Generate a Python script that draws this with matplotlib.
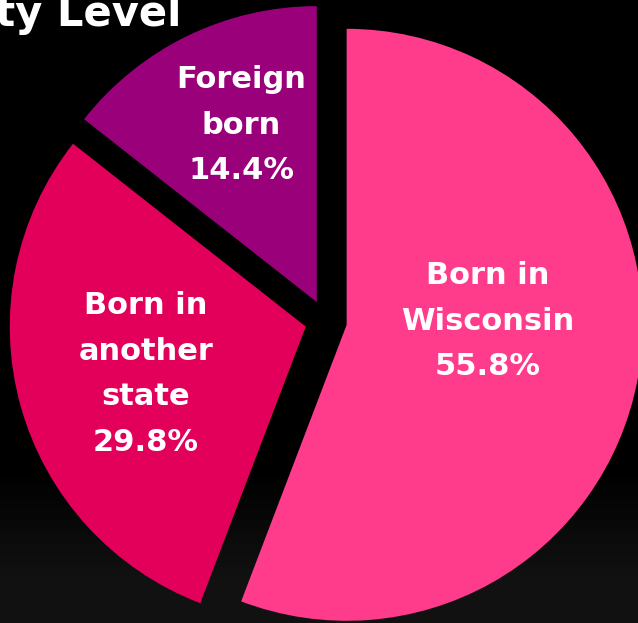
import numpy as np
import matplotlib
matplotlib.use("Agg")
import matplotlib.pyplot as plt

# Place of birth shares (percent)
categories = ["Born in\nWisconsin", "Born in\nanother\nstate", "Foreign\nborn"]
shares = [55.8, 29.8, 14.4]
colors = ["#FF3B8C", "#E2005A", "#99007A"]

W, H = 638, 623
fig = plt.figure(figsize=(W / 100, H / 100), dpi=100)
fig.patch.set_facecolor("black")
ax = fig.add_axes([0, 0, 1, 1])

# black background, slightly lighter toward the bottom
rows = np.arange(H)
grad = np.clip((rows - 470) / 110, 0, 1)[:, None] * 0.07
ax.imshow(np.dstack([grad, grad, grad]), extent=[0, W, 0, H], aspect="auto", zorder=0)

# explode is in data units here (pixels), pie is drawn in pixel space
wedges, _ = ax.pie(shares, colors=colors, startangle=90, counterclock=False,
                   explode=[21] * 3, center=(326, H - 321), radius=296,
                   wedgeprops=dict(linewidth=0))
ax.set_xlim(0, W)
ax.set_ylim(0, H)
ax.axis("off")

# label centres (pixels from the top-left corner)
label_pos = [(488, 321), (146, 374), (241, 125)]
for cat, val, (x, y) in zip(categories, shares, label_pos):
    ax.text(x, H - y, f"{cat}\n{val:.1f}%", ha="center", va="center",
            color="white", fontsize=22, fontweight="bold",
            family="DejaVu Sans", linespacing=1.72, zorder=5)

# title, mostly cut off at the left edge
ax.text(181, H - 26, "County Level", ha="right", va="baseline", color="white",
        fontsize=30, fontweight="bold", family="DejaVu Sans", zorder=5)

fig.savefig("out.png", dpi=100, facecolor="black")
